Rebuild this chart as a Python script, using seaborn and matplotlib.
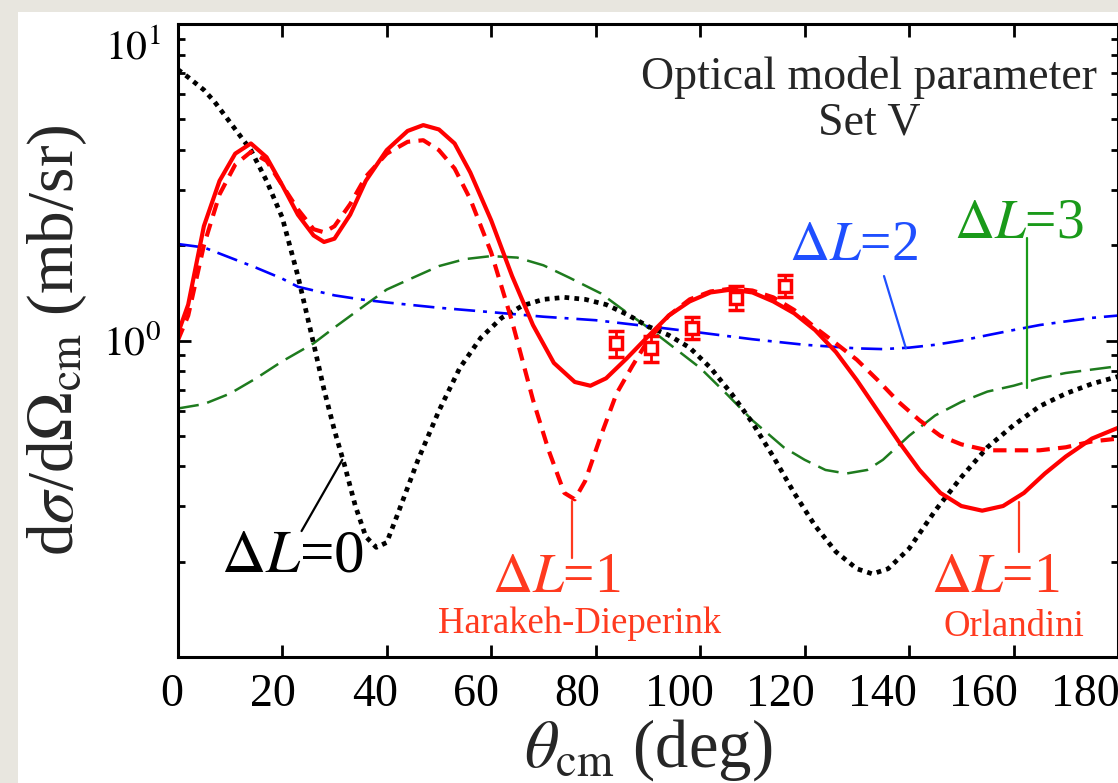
import numpy as np
import matplotlib
matplotlib.use("Agg")
import matplotlib.pyplot as plt
from matplotlib.patches import Rectangle
from matplotlib.ticker import FixedLocator, LogLocator, NullFormatter
from matplotlib.transforms import ScaledTranslation
import seaborn as sns

# --- curves (theta in deg, dsigma/dOmega in mb/sr) ---
th_l0 = [0, 2, 5, 7, 10, 14, 17, 20, 23, 26, 28, 30, 32, 34, 36, 38, 40, 42, 46, 50, 54, 58,
         62, 66, 70, 74, 78, 82, 86, 90, 94, 98, 102, 106, 110, 114, 118, 122, 126, 130, 133,
         136, 140, 145, 150, 155, 160, 165, 170, 175, 180]
xs_l0 = [7.2, 6.8, 6.2, 5.7, 4.9, 4.0, 3.2, 2.45, 1.6, 0.98, 0.7, 0.52, 0.4, 0.3, 0.24, 0.222,
         0.23, 0.28, 0.42, 0.6, 0.82, 1.02, 1.18, 1.29, 1.35, 1.37, 1.35, 1.3, 1.21, 1.11, 1.04,
         0.95, 0.82, 0.68, 0.55, 0.43, 0.33, 0.26, 0.215, 0.19, 0.183, 0.19, 0.22, 0.29, 0.37,
         0.46, 0.54, 0.62, 0.68, 0.73, 0.77]

th_l1_orl = [0, 2, 5, 8, 11, 14, 17, 20, 23, 26, 28, 30, 33, 36, 40, 44, 47, 50, 53, 56, 60,
             64, 68, 72, 76, 79, 82, 86, 90, 94, 98, 102, 106, 110, 114, 118, 122, 126, 130,
             134, 138, 142, 146, 150, 154, 158, 162, 166, 170, 175, 180]
xs_l1_orl = [1.05, 1.3, 2.3, 3.2, 3.9, 4.2, 3.8, 3.1, 2.5, 2.15, 2.05, 2.1, 2.5, 3.2, 4.0,
             4.6, 4.8, 4.65, 4.2, 3.4, 2.4, 1.6, 1.12, 0.85, 0.74, 0.72, 0.76, 0.88, 1.03,
             1.2, 1.33, 1.42, 1.45, 1.42, 1.33, 1.22, 1.08, 0.92, 0.75, 0.6, 0.48, 0.39, 0.33,
             0.3, 0.29, 0.3, 0.33, 0.38, 0.43, 0.49, 0.53]

th_l1_hd = [0, 2, 5, 8, 11, 14, 17, 20, 23, 26, 28, 30, 33, 36, 40, 44, 47, 50, 53, 56, 60,
            64, 68, 71, 74, 76, 78, 81, 84, 87, 90, 94, 98, 102, 106, 110, 114, 118, 122, 126,
            130, 134, 138, 142, 146, 150, 155, 160, 165, 170, 175, 180]
xs_l1_hd = [1.0, 1.2, 2.0, 2.9, 3.6, 3.95, 3.7, 3.1, 2.6, 2.25, 2.2, 2.3, 2.7, 3.3, 3.9, 4.25,
            4.3, 4.0, 3.5, 2.8, 1.9, 1.15, 0.65, 0.45, 0.33, 0.315, 0.36, 0.5, 0.68, 0.83,
            1.0, 1.2, 1.35, 1.43, 1.46, 1.44, 1.37, 1.25, 1.1, 0.98, 0.87, 0.75, 0.64, 0.56,
            0.5, 0.47, 0.45, 0.45, 0.45, 0.46, 0.48, 0.49]

th_l2 = [0, 5, 10, 15, 20, 23, 30, 35, 40, 50, 60, 70, 80, 90, 100, 110, 120, 130, 135, 140,
         145, 150, 155, 160, 165, 170, 175, 180]
xs_l2 = [2.02, 1.97, 1.83, 1.7, 1.57, 1.48, 1.39, 1.35, 1.32, 1.27, 1.23, 1.19, 1.16, 1.11,
         1.06, 1.01, 0.97, 0.945, 0.94, 0.95, 0.97, 1.0, 1.04, 1.08, 1.12, 1.15, 1.18, 1.2]

th_l3 = [0, 5, 10, 15, 20, 26, 30, 36, 40, 45, 50, 55, 60, 65, 70, 75, 81, 85, 90, 95, 100,
         105, 110, 116, 120, 124, 128, 132, 135, 140, 145, 150, 155, 160, 165, 170, 175, 180]
xs_l3 = [0.61, 0.63, 0.68, 0.76, 0.86, 0.98, 1.1, 1.3, 1.45, 1.58, 1.72, 1.81, 1.85, 1.83,
         1.73, 1.58, 1.41, 1.26, 1.1, 0.95, 0.82, 0.68, 0.56, 0.46, 0.42, 0.39, 0.38, 0.39,
         0.42, 0.5, 0.58, 0.64, 0.69, 0.72, 0.76, 0.79, 0.81, 0.83]

# measured points
th_exp = [83.9, 90.6, 98.5, 106.9, 116.3]
xs_exp = [0.98, 0.945, 1.10, 1.365, 1.49]
err_exp = [0.09, 0.09, 0.09, 0.12, 0.12]

x_ticks = [0, 20, 40, 60, 80, 100, 120, 140, 160, 180]

RED = "#ff0000"
RED_TXT = "#ff3a1f"
BLUE = "#0000ff"
BLUE_TXT = "#1f4fff"
GREEN = "#1e7b1e"
GREEN_TXT = "#1a9a1a"

sns.set_style("ticks")
plt.rcParams["font.family"] = ["Liberation Serif", "DejaVu Serif"]
plt.rcParams["mathtext.fontset"] = "stix"

fig = plt.figure(figsize=(11.18, 7.83), dpi=100, facecolor="#e8e6df")
fig.patches.append(Rectangle((0.016, 0), 0.984, 0.985, transform=fig.transFigure,
                             facecolor="white", edgecolor="none", zorder=-10))
ax = fig.add_axes([0.159, 0.161, 0.841, 0.808])
ax.set_facecolor("white")

sns.lineplot(x=th_l3, y=xs_l3, ax=ax, color=GREEN, lw=1.8, linestyle=(0, (8.5, 3.5)))
sns.lineplot(x=th_l2, y=xs_l2, ax=ax, color=BLUE, lw=1.9, linestyle=(0, (8, 3, 1.5, 3)))
sns.lineplot(x=th_l0, y=xs_l0, ax=ax, color="black", lw=3.4, linestyle=(0, (1, 1.1)))
sns.lineplot(x=th_l1_hd, y=xs_l1_hd, ax=ax, color=RED, lw=3.0, linestyle=(0, (3.2, 2.0)))
sns.lineplot(x=th_l1_orl, y=xs_l1_orl, ax=ax, color=RED, lw=3.0)
ax.errorbar(th_exp, xs_exp, yerr=err_exp, fmt="s", color=RED, mfc="white", mec=RED,
            ms=9, mew=2.5, elinewidth=2, capsize=6, capthick=2, zorder=5)

ax.set_yscale("log")
ax.set_xlim(0, 180)
ax.set_ylim(0.1, 10)

ax.xaxis.set_major_locator(FixedLocator(x_ticks))
ax.set_xticklabels([str(t) for t in x_ticks])
ax.set_yticks([0.1, 1, 10])
ax.set_yticklabels(["", r"$10^{0}$", r"$10^{1}$"])
ax.yaxis.set_minor_locator(LogLocator(base=10, subs=np.arange(2, 10)))
ax.yaxis.set_minor_formatter(NullFormatter())

ax.tick_params(which="both", direction="in", top=True, right=True, width=2, colors="black",
               pad=12)
ax.tick_params(axis="x", labelsize=33)
ax.tick_params(axis="y", labelsize=30)
ax.tick_params(which="major", length=9)
ax.tick_params(which="minor", length=5)
for s in ax.spines.values():
    s.set_linewidth(2.2)
    s.set_color("black")

# the tick labels in the original sit a little left of their ticks
for lbl, t in zip(ax.get_xticklabels(), x_ticks):
    lbl.set_transform(lbl.get_transform() +
                      ScaledTranslation(-(6 + 0.15 * t) / 100, 0, fig.dpi_scale_trans))
ylbls = ax.get_yticklabels()
ylbls[2].set_transform(ylbls[2].get_transform() +
                       ScaledTranslation(0, -0.2, fig.dpi_scale_trans))

ax.set_xlabel(r"$\theta_{\rm cm}$ (deg)", fontsize=48, labelpad=1)
ax.set_ylabel(r"d$\sigma$/d$\Omega_{\rm cm}$ (mb/sr)", fontsize=47, labelpad=10)

ax.text(0.735, 0.88, "Optical model parameter\nSet V", transform=ax.transAxes,
        ha="center", va="center", fontsize=33, linespacing=1.08)

lab = dict(fontsize=40, ha="center", va="center")
ax.text(22, 0.208, r"$\Delta L$=0", color="black", fontsize=44, ha="center", va="center")
ax.plot([31.5, 23.7], [0.42, 0.25], color="black", lw=1.6)

ax.text(72.5, 0.178, r"$\Delta L$=1", color=RED_TXT, **lab)
ax.plot([75.5, 75.5], [0.312, 0.205], color=RED_TXT, lw=1.6)
ax.text(77, 0.127, "Harakeh-Dieperink", color=RED_TXT, fontsize=26.5, ha="center", va="center")

ax.text(156.6, 0.178, r"$\Delta L$=1", color=RED_TXT, **lab)
ax.plot([161, 161], [0.31, 0.215], color=RED_TXT, lw=1.6)
ax.text(160, 0.125, "Orlandini", color=RED_TXT, fontsize=26.5, ha="center", va="center")

ax.text(129.4, 1.99, r"$\Delta L$=2", color=BLUE_TXT, **lab)
ax.plot([135.2, 139.4], [1.6, 0.945], color=BLUE_TXT, lw=1.6)

ax.text(161, 2.35, r"$\Delta L$=3", color=GREEN_TXT, **lab)
ax.plot([162.6, 162.6], [2.11, 0.71], color=GREEN_TXT, lw=1.6)

fig.savefig("out.png", dpi=100, facecolor=fig.get_facecolor())
